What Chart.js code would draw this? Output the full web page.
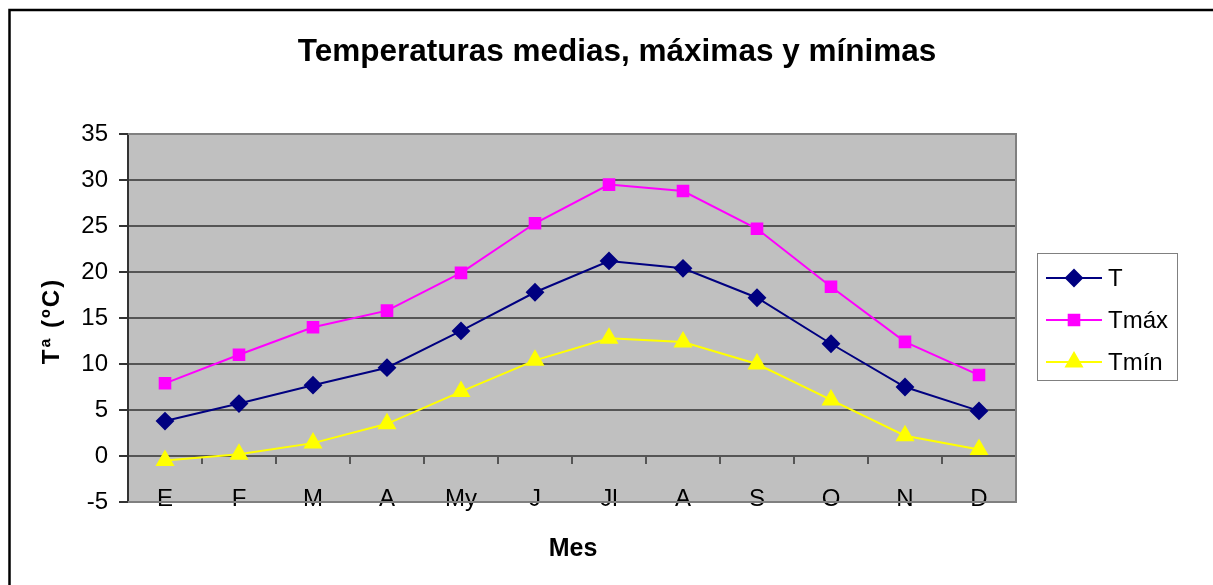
<!DOCTYPE html>
<html>
<head>
<meta charset="utf-8">
<script src="https://cdn.jsdelivr.net/npm/chart.js@4/dist/chart.umd.min.js"></script>
<style>
  html, body { margin: 0; padding: 0; background: #fff; }
  #wrap { width: 1213px; height: 585px; }
</style>
</head>
<body>
<div id="wrap"><canvas id="chart" width="1213" height="585"></canvas></div>
<script>
const months = ['E', 'F', 'M', 'A', 'My', 'J', 'Jl', 'A', 'S', 'O', 'N', 'D'];
const tMedia = [3.8, 5.7, 7.7, 9.6, 13.6, 17.8, 21.2, 20.4, 17.2, 12.2, 7.5, 4.9];
const tMax = [7.9, 11.0, 14.0, 15.8, 19.9, 25.3, 29.5, 28.8, 24.7, 18.4, 12.4, 8.8];
const tMin = [-0.5, 0.2, 1.4, 3.5, 7.0, 10.4, 12.8, 12.4, 10.0, 6.1, 2.2, 0.7];

const FONT = 'Arial, "Liberation Sans", sans-serif';

// plot background, frame, titles and legend drawn like the Excel original
const excelLook = {
  id: 'excelLook',
  beforeDraw(chart) {
    const { ctx, chartArea: a } = chart;
    ctx.save();
    ctx.fillStyle = '#c0c0c0';
    ctx.fillRect(a.left, a.top, a.right - a.left, a.bottom - a.top);
    ctx.restore();
  },
  afterDraw(chart) {
    const { ctx, chartArea: a } = chart;
    ctx.save();
    // plot area border
    ctx.strokeStyle = '#808080';
    ctx.lineWidth = 2;
    ctx.beginPath();
    ctx.moveTo(a.left, a.top);
    ctx.lineTo(a.right, a.top);
    ctx.lineTo(a.right, a.bottom);
    ctx.lineTo(a.left, a.bottom);
    ctx.stroke();
    // outer frame (top and left only visible)
    ctx.strokeStyle = '#000';
    ctx.lineWidth = 2.5;
    ctx.beginPath();
    ctx.moveTo(9.5, 600);
    ctx.lineTo(9.5, 10);
    ctx.lineTo(1213, 10);
    ctx.stroke();

    ctx.fillStyle = '#000';
    ctx.textAlign = 'center';
    ctx.textBaseline = 'middle';
    ctx.font = 'bold 31.5px ' + FONT;
    ctx.fillText('Temperaturas medias, máximas y mínimas', 617, 52);
    ctx.font = 'bold 25px ' + FONT;
    ctx.fillText('Mes', 573, 549);

    // y axis title
    ctx.save();
    ctx.translate(52, 321);
    ctx.rotate(-Math.PI / 2);
    ctx.font = 'bold 24px ' + FONT;
    ctx.letterSpacing = '2px';
    ctx.fillText('Tª (ºC)', 0, 0);
    ctx.restore();

    // legend
    ctx.strokeStyle = '#808080';
    ctx.lineWidth = 1;
    ctx.strokeRect(1037.5, 253.5, 140, 127);
    chart.data.datasets.forEach((ds, i) => {
      const y = 278 + i * 42;
      ctx.strokeStyle = ds.borderColor;
      ctx.lineWidth = 2;
      ctx.beginPath();
      ctx.moveTo(1046, y);
      ctx.lineTo(1102, y);
      ctx.stroke();
      ctx.fillStyle = ds.pointBackgroundColor;
      ctx.strokeStyle = ds.pointBorderColor;
      Chart.helpers.drawPoint(ctx, {
        pointStyle: ds.pointStyle,
        radius: ds.pointRadius,
        rotation: 0,
        borderWidth: 1
      }, 1074, y);
      ctx.fillStyle = '#000';
      ctx.textAlign = 'left';
      ctx.font = '24px ' + FONT;
      ctx.fillText(ds.label, 1108, y + 1);
    });
    ctx.restore();
  }
};

function series(label, data, color, style, radius) {
  return {
    label,
    data,
    borderColor: color,
    backgroundColor: color,
    pointBackgroundColor: color,
    pointBorderColor: color,
    pointStyle: style,
    pointRadius: radius,
    pointHoverRadius: radius,
    borderWidth: 2,
    tension: 0
  };
}

new Chart(document.getElementById('chart'), {
  type: 'line',
  data: {
    labels: months,
    datasets: [
      series('T', tMedia, '#000080', 'rectRot', 8),
      series('Tmáx', tMax, '#ff00ff', 'rect', 7.5),
      series('Tmín', tMin, '#ffff00', 'triangle', 9)
    ]
  },
  options: {
    responsive: false,
    animation: false,
    layout: { padding: { top: 134, right: 197, bottom: 83, left: 0 } },
    plugins: {
      legend: { display: false },
      title: { display: false },
      tooltip: { enabled: false }
    },
    scales: {
      x: {
        position: { y: 0 },
        offset: true,
        grid: {
          display: true,
          offset: true,
          drawOnChartArea: false,
          drawTicks: true,
          tickLength: 7,
          lineWidth: 2,
          color: '#555'
        },
        border: { display: true, color: '#555', width: 2 },
        ticks: {
          color: '#000',
          font: { family: FONT, size: 24 },
          padding: 22,
          maxRotation: 0,
          autoSkip: false
        }
      },
      y: {
        min: -5,
        max: 35,
        afterFit(scale) { scale.width = 128; },
        ticks: {
          stepSize: 5,
          color: '#000',
          font: { family: FONT, size: 24 },
          padding: 11
        },
        grid: {
          color: '#555',
          lineWidth: 2,
          tickLength: 9,
          tickColor: '#333'
        },
        border: { display: true, color: '#333', width: 2 },
        title: { display: false }
      }
    }
  },
  plugins: [excelLook]
});
</script>
</body>
</html>
